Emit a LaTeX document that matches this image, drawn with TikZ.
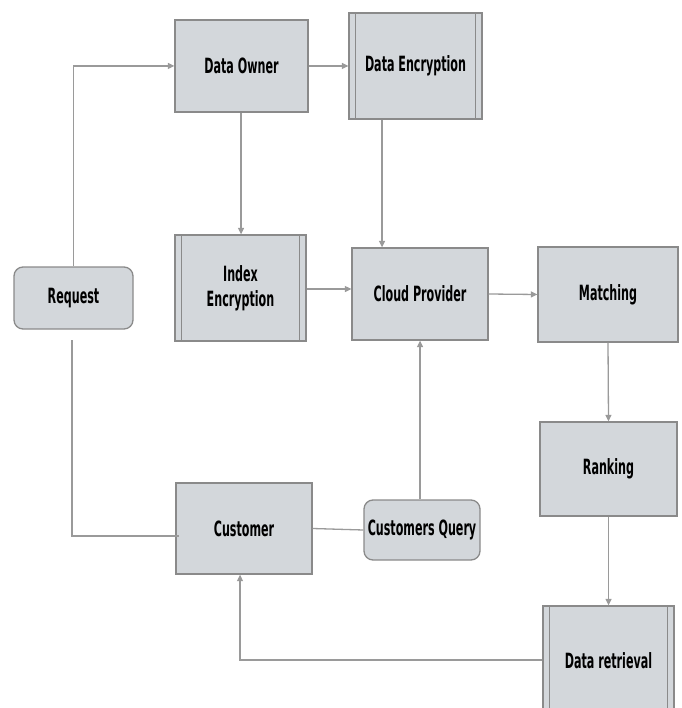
\documentclass[tikz,border=0pt]{standalone}
\usepackage{fontspec}
\newfontfamily\lblfont[FakeStretch=0.53]{DejaVu Sans}
\usetikzlibrary{arrows.meta}
\definecolor{boxfill}{HTML}{D3D7DB}
\definecolor{boxline}{HTML}{8A8A8A}
\definecolor{conn}{HTML}{9A9A9A}
\tikzset{
  proc/.style={draw=boxline, fill=boxfill, line width=1.3pt, minimum width=#1, inner sep=0pt, align=center, font=\lblfont\bfseries\fontsize{21}{23}\selectfont},
  proc/.default=133pt,
  rproc/.style={proc=#1, rounded corners=9pt},
  conn/.style={draw=conn, line width=1.3pt},
  arr/.style={conn, -{Triangle[length=6.5pt,width=6pt]}},
}
\newcommand{\bars}[2]{%
  \draw[boxline, line width=1.2pt] ([xshift=#2]#1.north west) -- ([xshift=#2]#1.south west);
  \draw[boxline, line width=1.2pt] ([xshift=-#2]#1.north east) -- ([xshift=-#2]#1.south east);}
\begin{document}
\begin{tikzpicture}[x=1pt, y=-1pt]
\useasboundingbox (0,0) rectangle (681,708);
\clip (0,0) rectangle (681,708);
\node[proc=133pt, minimum height=92pt] (owner) at (241.5,66) {Data Owner};
\node[proc=133pt, minimum height=106pt] (denc) at (415.5,66) {Data Encryption};
\bars{denc}{7.5pt}
\node[proc=131pt, minimum height=106pt] (ienc) at (240.5,288) {Index\\[2pt]Encryption};
\bars{ienc}{7.5pt}
\node[proc=136pt, minimum height=92pt] (cloud) at (420,294) {Cloud Provider};
\node[proc=140pt, minimum height=95pt] (match) at (608,294.5) {Matching};
\node[rproc=119pt, minimum height=62pt] (req) at (73.5,298) {Request};
\node[proc=137pt, minimum height=94pt] (rank) at (608.5,469) {Ranking};
\node[proc=136pt, minimum height=91pt] (cust) at (244,528.5) {Customer};
\node[rproc=116pt, minimum height=60pt] (query) at (422,530) {Customers Query};
\node[proc=131pt, minimum height=110pt] (dret) at (608.5,661) {Data retrieval};
\bars{dret}{7.5pt}
% connectors
\draw[arr] (req.north) |- (owner.west);
\draw[arr] (owner.east) -- (denc.west);
\draw[arr] (owner.south -| 241,0) -- (ienc.north -| 241,0);
\draw[arr] (denc.south -| 382,0) -- (cloud.north -| 382,0);
\draw[arr] (ienc.east |- 0,289) -- (cloud.west |- 0,289);
\draw[arr] (cloud.east) -- (match.west);
\draw[arr] (match.south) -- (rank.north);
\draw[arr] (rank.south) -- (dret.north);
\draw[arr] (dret.west |- 0,660) -| (cust.south -| 240,0);
\draw[arr] (query.north -| 420,0) -- (cloud.south -| 420,0);
\draw[conn] (cust.east) -- (query.west);
\coordinate (rb) at (72,340);
\coordinate (rc) at (70,536);
\draw[conn] (rb) |- ([xshift=4pt]cust.west |- rc);
\end{tikzpicture}
\end{document}
